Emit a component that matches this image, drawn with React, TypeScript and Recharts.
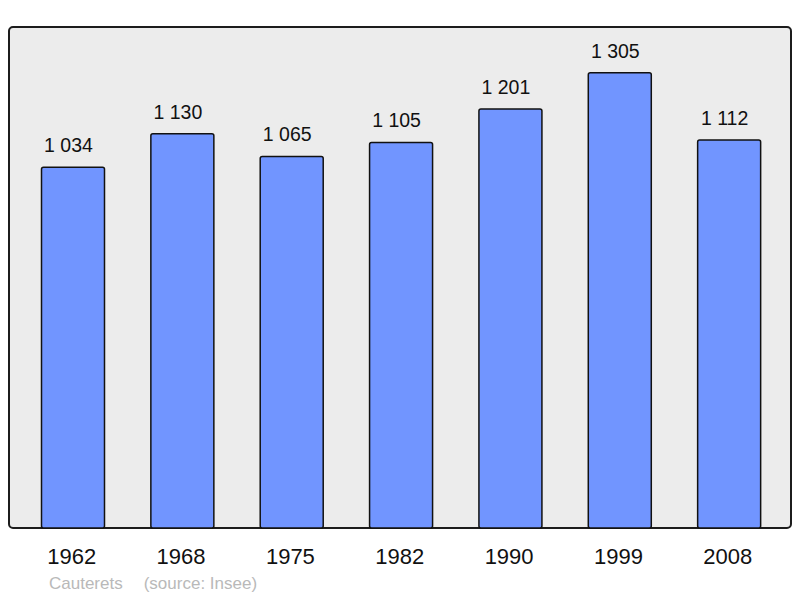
import { BarChart, Bar, XAxis, YAxis, LabelList } from "recharts";

const years = ["1962", "1968", "1975", "1982", "1990", "1999", "2008"];
const population = [1034, 1130, 1065, 1105, 1201, 1305, 1112];
const placeName = "Cauterets";
const sourceNote = "(source: Insee)";

const data = years.map((year, i) => ({ year, population: population[i] }));

const fmt = (v: number) =>
  v >= 1000 ? `${Math.floor(v / 1000)} ${String(v % 1000).padStart(3, "0")}` : String(v);

const font = "'Liberation Sans', Arial, sans-serif";

const App = () => {
  return (
    <div style={{ position: "absolute", left: 0, top: 0, width: 800, height: 598, fontFamily: font }}>
      <div
        style={{
          position: "absolute",
          left: 8,
          top: 26,
          width: 784,
          height: 503,
          boxSizing: "border-box",
          border: "2px solid #1c1c1c",
          borderRadius: 5,
          background: "#ececec",
        }}
      />
      <div style={{ position: "absolute", left: 0, top: 0 }}>
        <BarChart
          width={800}
          height={598}
          data={data}
          margin={{ top: 27, right: 9, bottom: 0, left: 9 }}
        >
          <XAxis
            dataKey="year"
            height={70}
            axisLine={false}
            tickLine={false}
            tickSize={0}
            tickMargin={20}
            padding={{ left: 9.5, right: 7 }}
            tick={{ fontSize: 22, fill: "#111", fontFamily: font, dx: -1.5 }}
          />
          <YAxis hide domain={[0, 1436]} />
          <Bar
            dataKey="population"
            fill="#7195ff"
            stroke="#111"
            strokeWidth={1.5}
            barSize={63}
            radius={2}
            isAnimationActive={false}
          >
            <LabelList
              dataKey="population"
              position="top"
              offset={15}
              formatter={(v: any) => fmt(Number(v))}
              style={{ fontSize: 19.5, fill: "#111", fontFamily: font, transform: "translateX(-4.5px)" }}
            />
          </Bar>
        </BarChart>
      </div>
      <div
        style={{
          position: "absolute",
          left: 49,
          top: 574,
          fontSize: 17,
          color: "#b9b9b9",
          whiteSpace: "pre",
        }}
      >
        {placeName}
        <span style={{ marginLeft: 21 }}>{sourceNote}</span>
      </div>
    </div>
  );
};

export default App;
